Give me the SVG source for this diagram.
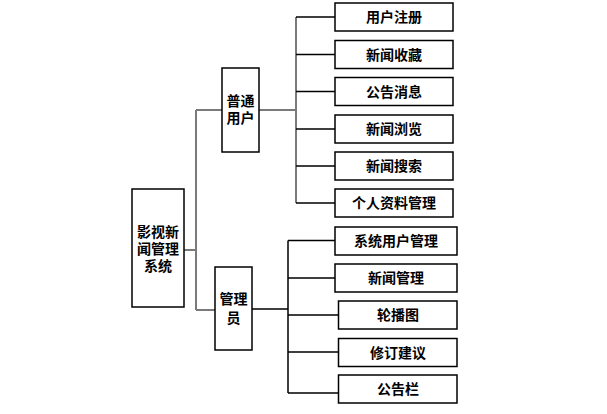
<svg xmlns="http://www.w3.org/2000/svg" width="607" height="414" viewBox="0 0 607 414">
<style>
.box{fill:#fff;stroke:#000;stroke-width:1.5}
.t{font-family:"Liberation Sans","Noto Sans CJK SC",sans-serif;font-size:14px;font-weight:bold;fill:#000;text-anchor:middle}
.g{fill:none;stroke:#7a7a7a;stroke-width:2}
.k{fill:none;stroke:#000;stroke-width:1.5}
</style>
<rect width="607" height="414" fill="#fff"/>
<g id="connectors">
<path class="g" d="M184 250H196M196 110V310M196 110H222M196 310H215"/>
<path class="g" d="M259 110H296M296 17V203"/>
<path class="k" d="M296 17H335M296 54.5H335M296 91.5H335M296 129H335M296 166H335M296 203H335"/>
<path class="k" d="M252 309H288M288 240.5V393M288 240.5H335M288 278H335M288 315H338M288 352H338M288 393H338"/>
</g>
<g id="root"><rect class="box" x="132" y="189" width="52" height="118"/>
<text class="t" x="158" y="236.5">影视新</text><text class="t" x="158" y="253.5">闻管理</text><text class="t" x="158" y="270.5">系统</text></g>
<g id="user"><rect class="box" x="222" y="68" width="37" height="84"/>
<text class="t" x="240.5" y="105.5">普通</text><text class="t" x="240.5" y="123">用户</text></g>
<g id="admin"><rect class="box" x="215" y="267" width="37" height="83"/>
<text class="t" x="233.5" y="304">管理</text><text class="t" x="233.5" y="323">员</text></g>
<g id="u1"><rect class="box" x="335" y="3" width="118" height="28"/><text class="t" x="394" y="22">用户注册</text></g>
<g id="u2"><rect class="box" x="335" y="40.5" width="118" height="28"/><text class="t" x="394" y="59.5">新闻收藏</text></g>
<g id="u3"><rect class="box" x="335" y="77.5" width="118" height="28"/><text class="t" x="394" y="96.5">公告消息</text></g>
<g id="u4"><rect class="box" x="335" y="115" width="118" height="28"/><text class="t" x="394" y="134">新闻浏览</text></g>
<g id="u5"><rect class="box" x="335" y="152" width="118" height="28"/><text class="t" x="394" y="171">新闻搜索</text></g>
<g id="u6"><rect class="box" x="335" y="189" width="118" height="28"/><text class="t" x="394" y="208">个人资料管理</text></g>
<g id="a1"><rect class="box" x="335" y="227" width="122" height="28"/><text class="t" x="396" y="246">系统用户管理</text></g>
<g id="a2"><rect class="box" x="335" y="264" width="122" height="28"/><text class="t" x="396" y="283">新闻管理</text></g>
<g id="a3"><rect class="box" x="338.5" y="301" width="118.5" height="28"/><text class="t" x="398" y="320">轮播图</text></g>
<g id="a4"><rect class="box" x="338.5" y="338.5" width="118.5" height="28"/><text class="t" x="398" y="357.5">修订建议</text></g>
<g id="a5"><rect class="box" x="338.5" y="375" width="118.5" height="28"/><text class="t" x="398" y="394">公告栏</text></g>
</svg>
